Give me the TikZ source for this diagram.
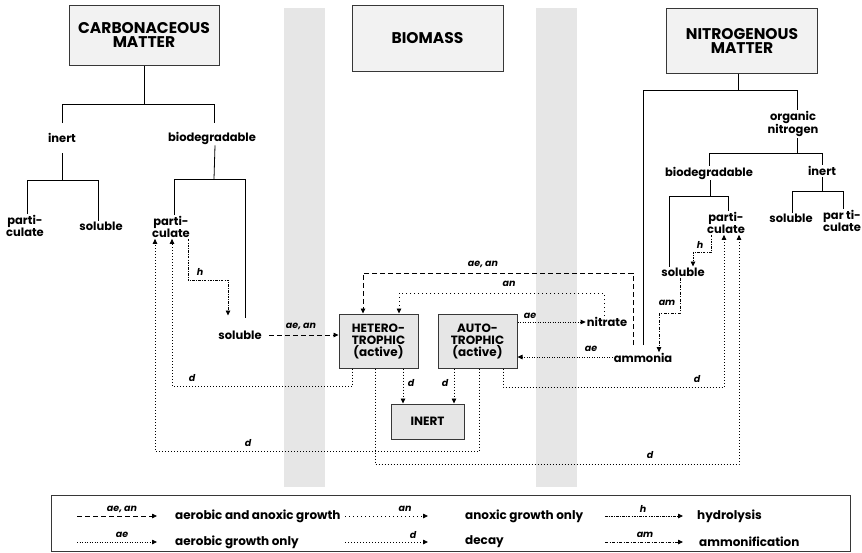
\documentclass[tikz,border=0pt]{standalone}
\usepackage{fontspec}
\setmainfont{Poppins}
\usetikzlibrary{arrows.meta,calc}
\definecolor{bandgray}{RGB}{230,230,230}
\definecolor{boxlight}{RGB}{242,242,242}
\definecolor{boxmid}{RGB}{230,230,230}
\definecolor{edgec}{RGB}{55,55,55}
\newcommand\myboxfont{\fontsize{15.5}{14}\selectfont\bfseries}
\newcommand\mysboxfont{\fontsize{12}{12}\selectfont\bfseries}
\newcommand\mylblfont{\fontsize{11.5}{12}\selectfont\bfseries}
\newcommand\mylegfont{\fontsize{12}{12}\selectfont\bfseries}
\newcommand\myitfont{\fontsize{9.5}{10}\selectfont\bfseries\itshape}
\begin{document}
\begin{tikzpicture}[x=1pt,y=-1pt,
  >={Triangle[length=5pt,width=4.5pt]},
  box/.style={draw=edgec, line width=1pt, align=center, font=\myboxfont, inner sep=0pt},
  smallbox/.style={box, fill=boxmid, font=\mysboxfont},
  lbl/.style={font=\mylblfont, align=center, inner sep=1pt},
  leg/.style={font=\mylegfont, inner sep=0pt, anchor=west},
  itl/.style={font=\myitfont, inner sep=0pt},
  tree/.style={draw=black, line width=0.8pt},
  aean/.style={->, line width=0.8pt, dash pattern=on 5pt off 3pt},
  anl/.style={->, line width=0.8pt, dash pattern=on 1pt off 3pt},
  ael/.style={->, line width=0.8pt, dash pattern=on 1pt off 1.5pt},
  dec/.style={->, line width=0.8pt, dash pattern=on 1pt off 2pt},
  hyd/.style={->, line width=0.8pt, dash pattern=on 2.5pt off 1.2pt on 0.8pt off 1.2pt},
  amm/.style={->, line width=0.8pt, dash pattern=on 3pt off 1.5pt on 1pt off 1.5pt}
]
\useasboundingbox (0,0) rectangle (862,552);
% background bands
\fill[bandgray] (284,8) rectangle (325,487);
\fill[bandgray] (536,8) rectangle (577,487);

% main boxes
\node[box, fill=boxlight, minimum width=150pt, minimum height=60pt] (carb) at (144,35) {CARBONACEOUS\\MATTER};
\node[box, fill=boxlight, minimum width=151pt, minimum height=66pt] (biomass) at (427.5,38) {BIOMASS};
\node[box, fill=boxlight, minimum width=151pt, minimum height=65pt] (nitro) at (742,40.5) {NITROGENOUS\\MATTER};
\node[smallbox, minimum width=79pt, minimum height=54pt] (hetero) at (378.5,341) {HETERO-\\TROPHIC\\(active)};
\node[smallbox, minimum width=79pt, minimum height=54pt] (auto) at (477.5,341) {AUTO-\\TROPHIC\\(active)};
\node[smallbox, minimum width=73pt, minimum height=35pt] (inertbox) at (427.5,421.5) {INERT};

% text nodes, carbonaceous side
\node[lbl] (cinert) at (62,138) {inert};
\node[lbl] (cbio) at (212,138) {biodegradable};
\node[lbl] (cpart1) at (25,226) {parti-\\culate};
\node[lbl] (csol1) at (101,226) {soluble};
\node[lbl] (cpart2) at (171,227) {parti-\\culate};
\node[lbl] (csol2) at (240,335) {soluble};
% nitrogenous side
\node[lbl] (orgN) at (793,124) {organic\\nitrogen};
\node[lbl] (nbio) at (709,173) {biodegradable};
\node[lbl] (ninert) at (822,171) {inert};
\node[lbl] (nsol1) at (791,218) {soluble};
\node[lbl] (npart2) at (842,221) {par ti-\\culate};
\node[lbl] (npart) at (726,223) {parti-\\culate};
\node[lbl] (nsol2) at (683,272) {soluble};
\node[lbl] (nitrate) at (607,322) {nitrate};
\node[lbl] (ammonia) at (643,358) {ammonia};

% carbonaceous tree
\draw[tree] (carb.south) -- (144,104);
\draw[tree] (cinert.north |- 0,123) -- (62,104) -- (214,104) -- (214,123);
\draw[tree] (cinert.south |- 0,153) -- (62,180);
\draw[tree] (cpart1.north -| 27,0) -- (27,180) -- (98,180) -- (csol1.north -| 98,0);
\draw[tree] (cbio.south -| 215,0) -- (214,179);
\draw[tree] (cpart2.north -| 174,0) -- (174,179) -- (245,179) -- ($(csol2.north -| 245,0)+(0,-12)$);

% nitrogenous tree
\draw[tree] (nitro.south -| 738,0) -- (738,90);
\draw[tree] ($(ammonia.north -| 643,0)+(0,-7)$) -- (643,90) -- (797,90) -- (orgN.north -| 797,0);
\draw[tree] (orgN.south -| 797,0) -- (797,153);
\draw[tree] (nbio.north) -- (709,153) -- (822,153) -- (ninert.north);
\draw[tree] (ninert.south) -- (822,191);
\draw[tree] (nsol1.north -| 792,0) -- (792,191) -- (843,191) -- (npart2.north -| 843,0);
\draw[tree] (nbio.south -| 710,0) -- (710,196);
\draw[tree] (nsol2.north -| 669,0) -- (669,196) -- (728,196) -- (npart.north -| 728,0);

% growth connectors
\draw[aean] ($(csol2.east)+(6,0)$) -- (csol2.east -| hetero.west);
\node[itl] (lab1) at (301,326) {ae, an};
\draw[aean] ($(ammonia.north -| 633,0)+(0,-7)$) -- (633,273) -| (hetero.north -| 363,0);
\node[itl] (lab2) at (483,264) {ae, an};
\draw[anl] (nitrate.north -| 604,0) -- (604,293) -| (hetero.north -| 399,0);
\node[itl] (lab3) at (509,284) {an};
\draw[ael] (auto.east |- 0,322) -- (nitrate.west |- 0,322);
\node[itl] (lab4) at (530,316) {ae};
\draw[ael] (ammonia.west |- 0,357) -- (auto.east |- 0,357);
\node[itl] (lab5) at (591,349) {ae};

% decay connectors
\draw[dec] (hetero.south -| 403,0) -- (inertbox.north -| 403,0);
\node[itl] (lab6) at (411,383) {d};
\draw[dec] (auto.south -| 454,0) -- (inertbox.north -| 454,0);
\node[itl] (lab7) at (445,383) {d};
\draw[dec] (hetero.south -| 352,0) -- (352,386) -| (cpart2.south -| 172,0);
\node[itl] (lab8) at (192,378) {d};
\draw[dec] (auto.south -| 479,0) -- (479,451) -| (cpart2.south -| 155,0);
\node[itl] (lab9) at (248,443) {d};
\draw[dec] (hetero.south -| 375,0) -- (375,464) -| (npart.south -| 739,0);
\node[itl] (lab10) at (650,455) {d};
\draw[dec] (auto.south -| 503,0) -- (503,387) -| (npart.south -| 724,0);
\node[itl] (lab11) at (697,379) {d};

% hydrolysis and ammonification
\draw[hyd] (cpart2.south -| 188,0) -- (188,280) -| ($(csol2.north -| 228,0)+(0,-14)$);
\node[itl] (lab12) at (200,272) {h};
\draw[hyd] (npart.south -| 711,0) -- (711,252) -| (nsol2.north -| 693,0);
\node[itl] (lab13) at (700,245) {h};
\draw[amm] (nsol2.south -| 680,0) -- (680,313) -| (ammonia.north -| 659,0);
\node[itl] (lab14) at (667,303) {am};

% legend
\node[draw=edgec, line width=0.8pt, minimum width=799pt, minimum height=56pt, inner sep=0pt] (legend) at (450.5,523) {};
\coordinate (l1a) at (77,516); \coordinate (l1b) at (157,516);
\coordinate (l2a) at (77,542); \coordinate (l2b) at (157,542);
\coordinate (l3a) at (345,516); \coordinate (l3b) at (428,516);
\coordinate (l4a) at (345,542); \coordinate (l4b) at (428,542);
\coordinate (l5a) at (605,516); \coordinate (l5b) at (683,516);
\coordinate (l6a) at (605,542); \coordinate (l6b) at (683,542);
\draw[aean] (l1a) -- (l1b);
\node[itl] (lg1) at (122,509) {ae, an};
\draw[ael] (l2a) -- (l2b);
\node[itl] (lg2) at (122,535) {ae};
\draw[anl] (l3a) -- (l3b);
\node[itl] (lg3) at (405,509) {an};
\draw[dec] (l4a) -- (l4b);
\node[itl] (lg4) at (413,535) {d};
\draw[hyd] (l5a) -- (l5b);
\node[itl] (lg5) at (643,509) {h};
\draw[amm] (l6a) -- (l6b);
\node[itl] (lg6) at (645,535) {am};
\node[leg] (t1) at (175,516) {aerobic and anoxic growth};
\node[leg] (t2) at (175,542) {aerobic growth only};
\node[leg] (t3) at (465,516) {anoxic growth only};
\node[leg] (t4) at (465,542) {decay};
\node[leg] (t5) at (697,516) {hydrolysis};
\node[leg] (t6) at (699,542) {ammonification};
\end{tikzpicture}
\end{document}
